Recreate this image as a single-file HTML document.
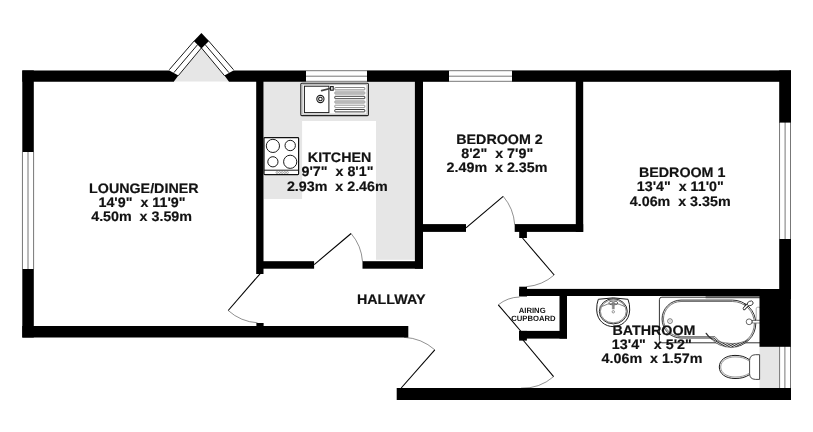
<!DOCTYPE html>
<html>
<head>
<meta charset="utf-8">
<title>Floor plan</title>
<style>
html,body{margin:0;padding:0;background:#fff;}
body{width:813px;height:432px;overflow:hidden;}
svg{display:block;}
text{text-rendering:geometricPrecision;font-family:"Liberation Sans",sans-serif;font-weight:bold;fill:#111;}
.t{font-size:13.7px;stroke:#111;stroke-width:0.18px;text-anchor:middle;}
.s{font-size:7.7px;text-anchor:middle;}
.w{fill:#000;}
.g{fill:#e6e6e6;}
.d{stroke:#000;stroke-width:1.1;fill:none;}
.a{stroke:#222;stroke-width:0.5;fill:none;}
.wl{stroke:#777;stroke-width:1;fill:none;}
.f{stroke:#1a1a1a;stroke-width:1.1;fill:#fff;}
.fn{stroke:#1a1a1a;stroke-width:1;fill:none;}
</style>
</head>
<body>
<svg width="813" height="432" viewBox="0 0 813 432">
<rect width="813" height="432" fill="#fff"/>

<!-- grey areas -->
<g class="g">
<polygon points="201.4,48 174,81.5 228.8,81.5"/>
<rect x="263.8" y="81" width="151.5" height="40"/>
<rect x="263.8" y="120" width="38.3" height="79"/>
<rect x="376" y="120" width="39.5" height="139.8"/>
<rect x="759.5" y="346" width="20" height="42"/>
</g>

<!-- windows -->
<g id="windows">
<rect x="306" y="70.5" width="61" height="11" fill="#fff"/>
<path class="wl" d="M306 70.7H367M306 76.2H367M306 81.3H367"/>
<rect x="449" y="70.5" width="63" height="11" fill="#fff"/>
<path class="wl" d="M449 70.7H512M449 76.2H512M449 81.3H512"/>
<path class="wl" d="M22.45 152V269M28 152V269M33.6 152V269"/>
<path class="wl" d="M779.55 122V239M785.1 122V239M790.5 122V239"/>
<path class="wl" d="M779.6 346V388M784.9 346V388M790.5 346V388"/>
<!-- bay -->
<polygon points="194.3,40.8 201.4,47.9 178.2,75.8 169.3,69.7" fill="#fff"/>
<polygon points="208.5,40.8 201.4,47.9 224.6,75.8 233.5,69.7" fill="#fff"/>
<path class="wl" style="stroke:#1a1a1a;stroke-width:1" d="M194.3 40.8L169.3 69.7M197.9 44.3L173.8 72.7M201.4 47.9L178.2 75.8"/>
<path class="wl" style="stroke:#1a1a1a;stroke-width:1" d="M208.5 40.8L233.5 69.7M204.9 44.3L229 72.7M201.4 47.9L224.6 75.8"/>
</g>


<!-- doors -->
<g id="doors">
<path class="d" d="M314.2 264.6L351.1 233.5"/>
<path class="a" d="M351.1 233.5A48.2 48.2 0 0 1 362.5 261.5"/>
<path class="d" d="M260 273.8L228.2 310.5"/>
<path class="a" d="M228.2 310.5A48.6 48.6 0 0 0 257.5 322.8"/>
<path class="d" d="M466 227.8L503.2 196.3"/>
<path class="a" d="M503.2 196.3A48.7 48.7 0 0 1 514.7 224.6"/>
<path class="d" d="M522.5 238L554.2 275"/>
<path class="a" d="M554.2 275A48.7 48.7 0 0 1 526.5 286.7"/>
<path class="d" d="M521.5 332L498.3 304.8"/>
<path class="a" d="M498.3 304.8A35.5 35.5 0 0 1 519.5 297"/>
<path class="d" d="M523 340L553.6 376.6"/>
<path class="a" d="M553.6 376.6A47.7 47.7 0 0 1 521 388.2"/>
<path class="d" d="M401.2 388L434.8 349.8"/>
<path class="a" d="M434.8 349.8A50.5 50.5 0 0 0 404 337.3"/>
</g>

<!-- kitchen sink -->
<g id="sink">
<rect x="300.8" y="83.2" width="67.6" height="32.4" rx="1" fill="#fff" stroke="#222" stroke-width="1.1"/>
<rect x="302.2" y="84.6" width="64.8" height="29.6" rx="0.5" style="stroke-width:0.6;stroke:#888" class="fn"/>
<rect x="304.4" y="86.2" width="24.5" height="26.4" style="stroke-width:1" class="f"/>
<circle cx="320.4" cy="99" r="3.6" class="f"/>
<circle cx="320.4" cy="99" r="1.8" class="f"/>
<path d="M321.6 90.6L331 88.2" stroke="#444" stroke-width="1.6" fill="none" stroke-linecap="round"/>
<rect x="330.6" y="86.6" width="2.6" height="3.6" class="f"/>
<g stroke-width="0.8" fill="#fff">
<rect x="334.8" y="87.5" width="30" height="2.4" rx="0.6" stroke="#666"/>
<rect x="334.8" y="91.8" width="30" height="2.4" rx="0.6" fill="#c4c4c4" stroke="#999"/>
<rect x="334.8" y="96.3" width="30" height="2.4" rx="0.6" stroke="#111"/>
<rect x="334.8" y="100.8" width="30" height="2.4" rx="0.6" fill="#c4c4c4" stroke="#999"/>
<rect x="334.8" y="105.2" width="30" height="2.4" rx="0.6" stroke="#777"/>
<rect x="334.8" y="109.5" width="30" height="2.4" rx="0.6" stroke="#111"/>
</g>
</g>

<!-- hob -->
<g id="hob">
<rect x="264" y="137.6" width="34.6" height="37" rx="0.8" fill="#fff" stroke="#111" stroke-width="1.2"/>
<path class="fn" d="M264 170.2H298.6"/>
<circle cx="272.9" cy="145.9" r="6.6" style="stroke-width:1" class="f"/>
<circle cx="290.2" cy="145.5" r="5.2" style="stroke-width:1" class="f"/>
<circle cx="272.9" cy="161.8" r="5.1" style="stroke-width:1" class="f"/>
<circle cx="290.2" cy="161.8" r="6.6" style="stroke-width:1" class="f"/>
<g style="stroke-width:0.45;stroke:#555" class="fn"><circle cx="277" cy="172.5" r="1"/><circle cx="279.6" cy="172.5" r="1"/><circle cx="282.2" cy="172.5" r="1"/><circle cx="284.8" cy="172.5" r="1"/><circle cx="287.4" cy="172.5" r="1"/></g>
</g>

<!-- bathroom fixtures -->
<g id="bath">
<defs><pattern id="hatch" width="1.7" height="1.7" patternUnits="userSpaceOnUse" patternTransform="rotate(62)"><rect width="1.7" height="1.7" fill="#fff"/><rect width="0.95" height="1.7" fill="#2a2a2a"/></pattern></defs>
<rect x="659.4" y="297.2" width="104" height="45.6" rx="2.5" class="f" style="stroke-width:1;stroke:#333"/>
<path d="M705.6 297.3H760" stroke="#555" stroke-width="1.9" fill="none"/>
<path style="stroke-width:0.9" class="f" d="M681 300.1H732.5A23.3 23.3 0 0 1 732.5 346.7A23.3 23.3 0 0 1 714.2 338H681A18.95 18.95 0 0 1 681 300.1Z"/>
<path style="stroke-width:0.6" class="fn" d="M681 301.5H732.5A21.9 21.9 0 0 1 732.5 345.3A21.9 21.9 0 0 1 714.9 336.6H681A17.55 17.55 0 0 1 681 301.5Z"/>
<path d="M711 338.4Q718 346.9 731.4 347.6Q742.5 347.2 747.8 339.6Q741 343.7 731 343.5Q720 343.2 711 338.4Z" fill="url(#hatch)" stroke="#333" stroke-width="0.5"/>
<path d="M706.2 333.4Q708 336.4 711.6 338.8" stroke="#333" stroke-width="1.3" fill="none" stroke-linecap="round"/>
<circle cx="670" cy="321.1" r="2.4" style="stroke-width:0.7;stroke:#444" class="f"/>
<circle cx="670" cy="321.1" r="0.8" style="stroke-width:0.4;stroke:#999" class="fn"/>
<rect x="756.2" y="307.2" width="4.5" height="13" rx="1.6" fill="#fff" stroke="#777" stroke-width="0.6"/>
<circle cx="749.1" cy="321.8" r="2.9" style="stroke-width:0.8;stroke:#444" class="f"/>
<rect x="752.4" y="320.6" width="8" height="2.4" fill="#fff" stroke="#444" stroke-width="0.6"/>
<path d="M744.2 308.6L748.4 304.2" stroke="#222" stroke-width="3" fill="none" stroke-linecap="round"/>
<path d="M744.2 308.6L748.4 304.2" stroke="#fff" stroke-width="1.5" fill="none" stroke-linecap="round"/>
<ellipse cx="750.2" cy="303.4" rx="3.1" ry="2.2" transform="rotate(-25 750.2 303.4)" fill="#fff" stroke="#222" stroke-width="0.8"/>
<circle cx="745.3" cy="304.7" r="1" fill="#333"/>
</g>
<g id="basin">
<path class="f" style="stroke-width:1" d="M598.3 299.3Q613.3 296.4 628 299.3Q629.9 304 629.7 310C629.4 321 621 326.6 613.2 326.6C605.4 326.6 597 321 596.7 310Q596.5 304 598.3 299.3Z"/>
<ellipse cx="613.3" cy="311.3" rx="14" ry="12.6" class="f" style="stroke-width:0.9"/>
<ellipse cx="613.3" cy="311.3" rx="12.9" ry="11.5" class="fn" style="stroke-width:0.5"/>
<path class="fn" style="stroke-width:0.6;stroke:#333" d="M601.6 306.6Q613.3 300.2 625 306.6"/>
<ellipse cx="613.3" cy="303" rx="4.6" ry="1.9" class="fn" style="stroke-width:0.7;stroke:#333"/>
<path d="M613.3 302V309.2" stroke="#8a8a8a" stroke-width="1.9" fill="none"/>
<path d="M612.3 302V309.2M614.3 302V309.2" stroke="#555" stroke-width="0.4" fill="none"/>
<circle cx="613.3" cy="311.8" r="1.2" class="f" style="stroke-width:0.6;stroke:#555"/>
</g>
<g id="wc">
<path class="f" style="stroke-width:1" d="M749.6 359.8C745 356.6 741 355.4 735 355.4C726 355.4 719.3 360 719.3 367C719.3 374 726 378.5 735 378.5C741 378.5 745 377.5 749.6 374.6"/>
<path class="fn" style="stroke-width:0.55;stroke:#444" d="M749.6 361.3C745 358 741 356.9 735 356.9C727 356.9 720.7 361 720.7 367C720.7 373 727 377 735 377C741 377 745 376 749.6 373.1"/>
<path class="f" style="stroke-width:0.9;stroke:#333" d="M759.6 354.7H755.4Q749.6 355 749.6 360.4V373.8Q749.6 379.1 755.4 379.4H759.6Z"/>
</g>

<!-- walls -->
<g class="w">
<!-- top -->
<polygon points="22.3,70.4 169.3,70.4 178.4,75.6 173.8,81.8 22.3,81.8"/>
<polygon points="306,70.4 233.5,70.4 224.4,75.6 229,81.8 306,81.8"/>
<polygon points="201.4,33 209,41 201.4,48.4 193.8,41"/>
<rect x="367" y="70.4" width="82" height="11.4"/>
<rect x="512" y="70.4" width="279" height="11.4"/>
<!-- left -->
<rect x="22.3" y="70.4" width="11.5" height="81.6"/>
<rect x="22.3" y="269" width="11.5" height="68.5"/>
<!-- lounge bottom -->
<rect x="22.3" y="326" width="386" height="11.5"/>
<rect x="256.4" y="323" width="7.2" height="4"/>
<!-- right -->
<rect x="779.2" y="70.4" width="11.8" height="52.2"/>
<rect x="779.2" y="239" width="11.8" height="60"/>
<rect x="759.5" y="289" width="31.4" height="57.8"/>
<!-- bottom -->
<rect x="396.7" y="388" width="394.3" height="12"/>
<!-- interior -->
<rect x="256.2" y="81" width="7.3" height="193"/>
<rect x="263" y="261.2" width="51.1" height="7.5"/>
<rect x="362.5" y="261.2" width="60.5" height="7.5"/>
<rect x="414.9" y="81" width="8.1" height="187.7"/>
<rect x="423" y="224.1" width="43" height="7.8"/>
<rect x="514.7" y="224.1" width="68.5" height="7.8"/>
<rect x="519.2" y="231" width="7.7" height="7"/>
<rect x="575.8" y="81" width="7.4" height="150.9"/>
<rect x="519.2" y="288.9" width="241" height="7.1"/>
<rect x="519.2" y="286.7" width="7.8" height="9.8"/>
<rect x="559.5" y="295" width="7.5" height="43.6"/>
<rect x="519.1" y="330.9" width="47.9" height="7.7"/>
<rect x="519.1" y="330.9" width="7.8" height="9.7"/>
</g>

<!-- labels -->
<g id="labels" opacity="0.995">
<text class="t" transform="translate(143.8 192.6) scale(1.043 1)">LOUNGE/DINER</text>
<text class="t" transform="translate(142 207.2) scale(1.043 1)" xml:space="preserve">14'9"  x 11'9"</text>
<text class="t" transform="translate(141.6 221.4) scale(1.043 1)" xml:space="preserve">4.50m  x 3.59m</text>

<text class="t" transform="translate(339.6 162.2) scale(1.043 1)">KITCHEN</text>
<text class="t" transform="translate(337.5 176.0) scale(1.043 1)" xml:space="preserve">9'7"  x 8'1"</text>
<text class="t" transform="translate(337.3 190.6) scale(1.043 1)" xml:space="preserve">2.93m  x 2.46m</text>

<text class="t" transform="translate(499.5 143.6) scale(1.043 1)">BEDROOM 2</text>
<text class="t" transform="translate(497.2 157.6) scale(1.043 1)" xml:space="preserve">8'2"  x 7'9"</text>
<text class="t" transform="translate(497 172.0) scale(1.043 1)" xml:space="preserve">2.49m  x 2.35m</text>

<text class="t" transform="translate(682.2 176.8) scale(1.043 1)">BEDROOM 1</text>
<text class="t" transform="translate(680.3 191.2) scale(1.043 1)" xml:space="preserve">13'4"  x 11'0"</text>
<text class="t" transform="translate(680.2 205.8) scale(1.043 1)" xml:space="preserve">4.06m  x 3.35m</text>

<text class="t" transform="translate(653.9 334.5) scale(1.043 1)">BATHROOM</text>
<text class="t" transform="translate(651.8 348.6) scale(1.043 1)" xml:space="preserve">13'4"  x 5'2"</text>
<text class="t" transform="translate(652 363.4) scale(1.043 1)" xml:space="preserve">4.06m  x 1.57m</text>

<text class="t" transform="translate(391.2 304.4) scale(1.043 1)">HALLWAY</text>

<text class="s" x="532.2" y="313.2">AIRING</text>
<text class="s" x="533.4" y="320.8">CUPBOARD</text>
</g>
</svg>
</body>
</html>
